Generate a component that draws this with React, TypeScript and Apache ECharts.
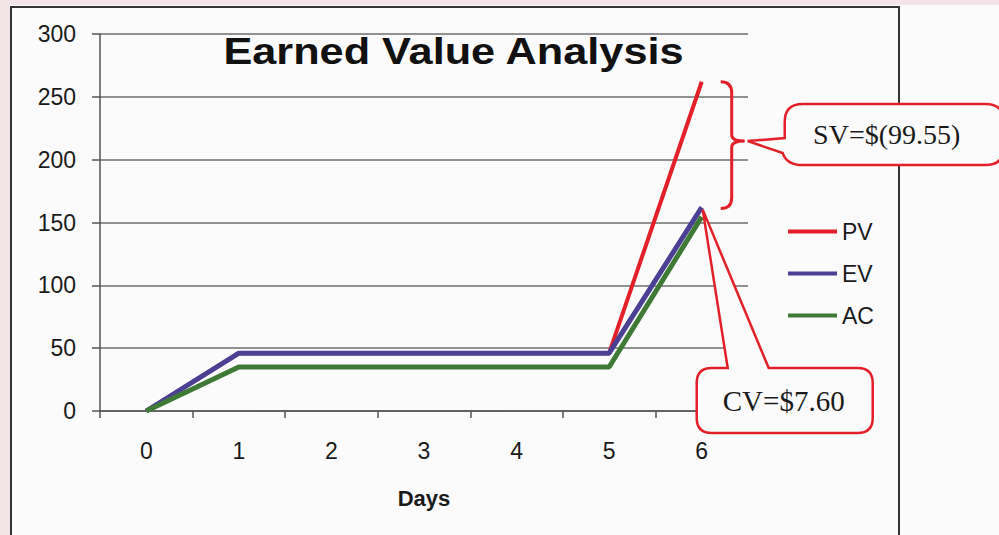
import React, { useEffect, useRef } from "react";
import * as echarts from "echarts";

const days = ["0", "1", "2", "3", "4", "5", "6"];
const pvValues = [0, 46, 46, 46, 46, 46, 262];
const evValues = [0, 46, 46, 46, 46, 46, 162];
const acValues = [0, 35, 35, 35, 35, 35, 154.5];
const yMin = 0;
const yMax = 300;
const yInterval = 50;
const titleText = "Earned Value Analysis";
const svLabel = "SV=$(99.55)";
const cvLabel = "CV=$7.60";

const RED = "#e3202a";
const PURPLE = "#4b4094";
const GREEN = "#3e7a36";
const SANS = "Liberation Sans, Arial, sans-serif";
const SERIF = "Liberation Serif, Times New Roman, serif";

export default function App() {
  const ref = useRef<HTMLDivElement>(null);

  useEffect(() => {
    if (!ref.current) return;
    const chart = echarts.init(ref.current, undefined, { renderer: "svg" });

    const base: any = {
      animation: false,
      backgroundColor: "#f3e4e7",
      grid: { left: 100, top: 34, width: 648, height: 377, containLabel: false },
      legend: {
        orient: "vertical",
        left: 783,
        top: 215,
        icon: "rect",
        itemWidth: 49,
        itemHeight: 4,
        itemGap: 19,
        textStyle: { fontFamily: SANS, fontSize: 23, color: "#1a1a1a", padding: [0, 0, 0, 0] },
        data: ["PV", "EV", "AC"],
      },
      xAxis: {
        type: "category",
        data: days,
        boundaryGap: true,
        name: "Days",
        nameLocation: "middle",
        nameGap: 76,
        nameTextStyle: { fontFamily: SANS, fontSize: 22, fontWeight: "bold", color: "#1a1a1a" },
        axisLine: { show: true, lineStyle: { color: "#555", width: 1.5 } },
        axisTick: { show: true, length: 7, inside: false, lineStyle: { color: "#555", width: 1.5 } },
        axisLabel: { fontFamily: SANS, fontSize: 23, color: "#1a1a1a", margin: 28 },
        splitLine: { show: false },
      },
      yAxis: {
        type: "value",
        min: yMin,
        max: yMax,
        interval: yInterval,
        axisLine: { show: true, lineStyle: { color: "#555", width: 1.5 } },
        axisTick: { show: true, length: 8, inside: false, lineStyle: { color: "#555", width: 1.5 } },
        axisLabel: { fontFamily: SANS, fontSize: 23, color: "#1a1a1a", margin: 24 },
        splitLine: { show: true, lineStyle: { color: "#6e6e6e", width: 1.5 } },
      },
      series: [
        { name: "PV", type: "line", data: pvValues, showSymbol: false, symbol: "none", lineStyle: { color: RED, width: 4 }, itemStyle: { color: RED }, z: 3 },
        { name: "EV", type: "line", data: evValues, showSymbol: false, symbol: "none", lineStyle: { color: PURPLE, width: 5 }, itemStyle: { color: PURPLE }, z: 4 },
        { name: "AC", type: "line", data: acValues, showSymbol: false, symbol: "none", lineStyle: { color: GREEN, width: 5 }, itemStyle: { color: GREEN }, z: 5 },
      ],
    };
    chart.setOption(base);

    const last = days.length - 1;
    const pvPt = chart.convertToPixel({ gridIndex: 0 }, [last, pvValues[last]]) as number[];
    const evPt = chart.convertToPixel({ gridIndex: 0 }, [last, evValues[last]]) as number[];
    const midPt = chart.convertToPixel({ gridIndex: 0 }, [last, (evValues[last] + acValues[last]) / 2 + 2]) as number[];
    const zeroPt = chart.convertToPixel({ gridIndex: 0 }, [last, 0]) as number[];
    const px = pvPt[0];

    // Brace between PV and EV at the last day
    const yT = pvPt[1];
    const yB = evPt[1] + 1;
    const yM = (yT + yB) / 2 - 4;
    const bx0 = px + 19, bx1 = px + 30, bx2 = px + 43;
    const braceD = `M${bx0},${yT} Q${bx1},${yT} ${bx1},${yT + 11} L${bx1},${yM - 6} Q${bx1},${yM} ${bx2},${yM} Q${bx1},${yM} ${bx1},${yM + 6} L${bx1},${yB - 11} Q${bx1},${yB} ${bx0},${yB}`;

    // SV bubble
    const tipX = bx2 + 3, tipY = yM;
    const sL = px + 83, sT = tipY - 37, sR = px + 302, sB = tipY + 24, sr = 18;
    const svD = `M${sL + sr},${sT} L${sR - sr},${sT} Q${sR},${sT} ${sR},${sT + sr} L${sR},${sB - sr} Q${sR},${sB} ${sR - sr},${sB} L${sL + sr},${sB} Q${sL + 2},${sB} ${sL - 2},${tipY + 12} L${tipX},${tipY} L${sL},${tipY - 3} L${sL},${sT + sr} Q${sL},${sT} ${sL + sr},${sT} Z`;

    // CV bubble
    const ax = midPt[0] + 1, ay = midPt[1];
    const cL = px - 5, cR = px + 171, cB = zeroPt[1] + 22, cT = zeroPt[1] - 43, cr = 15;
    const cvD = `M${cL + cr},${cT} L${px + 26},${cT} L${ax},${ay} L${px + 67},${cT} L${cR - cr},${cT} Q${cR},${cT} ${cR},${cT + cr} L${cR},${cB - cr} Q${cR},${cB} ${cR - cr},${cB} L${cL + cr},${cB} Q${cL},${cB} ${cL},${cB - cr} L${cL},${cT + cr} Q${cL},${cT} ${cL + cr},${cT} Z`;

    echarts.graphic.registerShape("evBrace", echarts.graphic.extendPath(braceD, {}) as any);
    echarts.graphic.registerShape("svBubble", echarts.graphic.extendPath(svD, {}) as any);
    echarts.graphic.registerShape("cvBubble", echarts.graphic.extendPath(cvD, {}) as any);

    chart.setOption({
      graphic: [
        { type: "rect", z: -10, silent: true, shape: { x: 10, y: 5, width: 989, height: 530 }, style: { fill: "#fbfbfb" } },
        { type: "rect", z: -9, silent: true, shape: { x: 11, y: 7, width: 888, height: 540 }, style: { fill: "none", stroke: "#333", lineWidth: 2 } },
        { type: "text", z: 40, x: 453.5, y: 52, scaleX: 1.17, style: { text: titleText, fontFamily: SANS, fontSize: 37, fontWeight: "bold", fill: "#111", align: "center", verticalAlign: "middle" } },
        { type: "evBrace", z: 50, x: 0, y: 0, style: { fill: "none", stroke: RED, lineWidth: 3 } },
        { type: "svBubble", z: 50, x: 0, y: 0, style: { fill: "#fbfbfb", stroke: RED, lineWidth: 2.5 } },
        { type: "text", z: 51, x: px + 185, y: tipY - 7, style: { text: svLabel, fontFamily: SERIF, fontSize: 28, fill: "#1a1a1a", align: "center", verticalAlign: "middle" } },
        { type: "cvBubble", z: 50, x: 0, y: 0, style: { fill: "#fbfbfb", stroke: RED, lineWidth: 2.5 } },
        { type: "text", z: 51, x: (cL + cR) / 2 - 1, y: (cT + cB) / 2, style: { text: cvLabel, fontFamily: SERIF, fontSize: 29, fill: "#1a1a1a", align: "center", verticalAlign: "middle" } },
      ],
    });

    return () => chart.dispose();
  }, []);

  return <div ref={ref} style={{ position: "fixed", left: 0, top: 0, width: 999, height: 535 }} />;
}
